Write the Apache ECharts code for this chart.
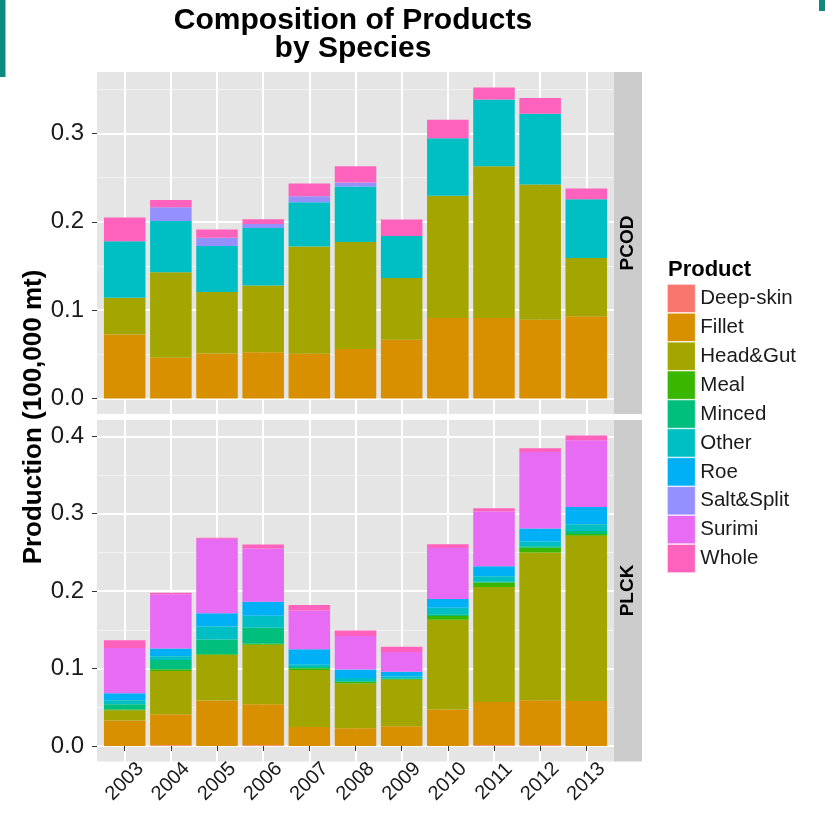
<!DOCTYPE html>
<html><head><meta charset="utf-8">
<script src="https://cdn.jsdelivr.net/npm/echarts@6/dist/echarts.min.js"></script>
<style>html,body{margin:0;padding:0;background:#fff}#c{width:825px;height:817px}</style>
</head><body><div id="c"></div>
<script>
const years = ['2003','2004','2005','2006','2007','2008','2009','2010','2011','2012','2013'];
const products = ['Deep-skin','Fillet','Head&Gut','Meal','Minced','Other','Roe','Salt&Split','Surimi','Whole'];
const productColors = ['#F8766D','#D89000','#A3A500','#39B600','#00BF7D','#00BFC4','#00B0F6','#9590FF','#E76BF3','#FF62BC'];
const species = ['PCOD','PLCK'];
const pcodTicks = [0, 0.1, 0.2, 0.3];
const plckTicks = [0, 0.1, 0.2, 0.3, 0.4];
const pcodMinorTicks = [0.05, 0.15, 0.25, 0.35];
const plckMinorTicks = [0.05, 0.15, 0.25, 0.35];

// PCOD production by product (100,000 mt)
const pcodFillet   = [0.0725, 0.046, 0.051, 0.0524, 0.0505, 0.056, 0.0664, 0.091, 0.091, 0.089, 0.093];
const pcodHeadGut  = [0.0415, 0.097, 0.0695, 0.0756, 0.1215, 0.121, 0.070, 0.1385, 0.172, 0.1533, 0.066];
const pcodOther    = [0.064, 0.058, 0.052, 0.065, 0.050, 0.063, 0.0476, 0.065, 0.0755, 0.080, 0.0664];
const pcodSalt     = [0, 0.0155, 0.0094, 0.0045, 0.007, 0.0045, 0, 0, 0, 0, 0];
const pcodWhole    = [0.027, 0.0083, 0.0094, 0.0053, 0.0145, 0.0185, 0.0185, 0.021, 0.0135, 0.0178, 0.0124];

// PLCK production by product (100,000 mt)
const plckDeepSkin = [0, 0.001, 0, 0.001, 0, 0, 0, 0, 0.0008, 0.001, 0];
const plckFillet   = [0.033, 0.040, 0.0586, 0.053, 0.0245, 0.023, 0.0254, 0.047, 0.056, 0.058, 0.058];
const plckHeadGut  = [0.013, 0.056, 0.059, 0.0767, 0.0735, 0.0577, 0.060, 0.116, 0.1486, 0.191, 0.2137];
const plckMeal     = [0.001, 0.002, 0.001, 0.0013, 0.0023, 0.002, 0.001, 0.005, 0.0056, 0.006, 0.002];
const plckMinced   = [0.007, 0.012, 0.019, 0.0207, 0.0017, 0.001, 0.0005, 0.002, 0.001, 0.002, 0.004];
const plckOther    = [0.005, 0.005, 0.0167, 0.0155, 0.0035, 0.004, 0.003, 0.0087, 0.0073, 0.006, 0.0086];
const plckRoe      = [0.009, 0.010, 0.017, 0.018, 0.0195, 0.011, 0.006, 0.0113, 0.0127, 0.017, 0.0224];
const plckSurimi   = [0.0585, 0.070, 0.0965, 0.069, 0.050, 0.0434, 0.0254, 0.0658, 0.071, 0.0988, 0.0862];
const plckWhole    = [0.010, 0.002, 0.001, 0.005, 0.007, 0.007, 0.007, 0.0048, 0.004, 0.0048, 0.006];

const pcodSeries = {'Fillet': pcodFillet, 'Head&Gut': pcodHeadGut, 'Other': pcodOther, 'Salt&Split': pcodSalt, 'Whole': pcodWhole};
const plckSeries = {'Deep-skin': plckDeepSkin, 'Fillet': plckFillet, 'Head&Gut': plckHeadGut, 'Meal': plckMeal,
  'Minced': plckMinced, 'Other': plckOther, 'Roe': plckRoe, 'Surimi': plckSurimi, 'Whole': plckWhole};

const FONT = 'Liberation Sans, Arial, Helvetica, sans-serif';
const xPos = years.map((y, i) => i + 1);
const yRanges = [[-0.0176, 0.3696], [-0.02005, 0.42105]];

// panel geometry: ggplot discrete axis expands 0.6 category units on each side
const PANEL_L = 97, PANEL_W = 517;
const unit = PANEL_W / 11.2;
const panels = [{ top: 72, height: 342 }, { top: 420, height: 341.5 }];

const series = [];
[pcodSeries, plckSeries].forEach((set, gi) => {
  products.forEach((p, pi) => {
    const arr = set[p];
    if (!arr) return;
    series.push({
      type: 'bar', name: p, stack: species[gi], xAxisIndex: 2 + gi, yAxisIndex: 4 + gi,
      barWidth: '90%',
      itemStyle: { color: productColors[pi] },
      data: arr.slice()
    });
  });
});

const panelX = (gi) => ({
  type: 'value', gridIndex: gi, min: 0.4, max: 11.6,
  axisLine: { show: false },
  axisTick: { show: true, customValues: xPos, length: 5, lineStyle: { color: gi === 1 ? '#333' : 'rgba(0,0,0,0)', width: 1 } },
  axisLabel: { show: gi === 1, customValues: xPos, formatter: v => years[Math.round(v) - 1] || '',
    rotate: 45, align: 'center', verticalAlign: 'middle', margin: 20,
    fontFamily: FONT, fontSize: 20, color: '#1a1a1a' },
  splitLine: { show: true, lineStyle: { color: '#fff', width: 2 } }
});
const barX = (gi) => ({
  type: 'category', gridIndex: 2 + gi, data: years, boundaryGap: true,
  axisLine: { show: false }, axisTick: { show: false }, axisLabel: { show: false }, splitLine: { show: false }
});
const yMajor = (gi, ticks) => ({
  type: 'value', gridIndex: gi, min: yRanges[gi][0], max: yRanges[gi][1], position: 'left',
  axisLine: { show: false },
  axisTick: { show: true, customValues: ticks, length: 5, lineStyle: { color: '#333', width: 1 } },
  axisLabel: { show: true, customValues: ticks, formatter: v => v.toFixed(1), margin: 13,
    fontFamily: FONT, fontSize: 24, color: '#1a1a1a' },
  splitLine: { show: true, lineStyle: { color: '#fff', width: 2 } }
});
const yMinor = (gi, ticks) => ({
  type: 'value', gridIndex: gi, min: yRanges[gi][0], max: yRanges[gi][1], position: 'right',
  axisLine: { show: false },
  axisTick: { show: true, customValues: ticks, length: 0, lineStyle: { color: 'rgba(0,0,0,0)' } },
  axisLabel: { show: false, customValues: ticks },
  splitLine: { show: true, lineStyle: { color: '#F2F2F2', width: 1 } }
});
const yBar = (gi) => ({
  type: 'value', gridIndex: 2 + gi, min: yRanges[gi][0], max: yRanges[gi][1],
  axisLine: { show: false }, axisTick: { show: false }, axisLabel: { show: false }, splitLine: { show: false }
});

const option = {
  backgroundColor: '#ffffff',
  animation: false,
  grid: [
    { left: PANEL_L, top: panels[0].top, width: PANEL_W, height: panels[0].height, show: true, backgroundColor: '#E5E5E5', borderWidth: 0, containLabel: false, outerBoundsMode: 'none' },
    { left: PANEL_L, top: panels[1].top, width: PANEL_W, height: panels[1].height, show: true, backgroundColor: '#E5E5E5', borderWidth: 0, containLabel: false, outerBoundsMode: 'none' },
    { left: PANEL_L + 0.1 * unit, top: panels[0].top, width: 11 * unit, height: panels[0].height, show: false, containLabel: false, outerBoundsMode: 'none' },
    { left: PANEL_L + 0.1 * unit, top: panels[1].top, width: 11 * unit, height: panels[1].height, show: false, containLabel: false, outerBoundsMode: 'none' }
  ],
  xAxis: [panelX(0), panelX(1), barX(0), barX(1)],
  yAxis: [yMajor(0, pcodTicks), yMinor(0, pcodMinorTicks), yMajor(1, plckTicks), yMinor(1, plckMinorTicks), yBar(0), yBar(1)],
  legend: {
    data: products, orient: 'vertical', left: 667, top: 284, padding: 0,
    itemWidth: 28, itemHeight: 28.3, itemGap: 0, icon: 'rect', selectedMode: false,
    itemStyle: { borderColor: '#ffffff', borderWidth: 0.6 },
    textStyle: { fontFamily: FONT, fontSize: 20.5, color: '#1a1a1a' }
  },
  graphic: [
    { type: 'rect', shape: { x: 0, y: 0, width: 5.5, height: 77 }, style: { fill: '#0E8A80' } },
    { type: 'rect', shape: { x: 819, y: 0, width: 6, height: 11 }, style: { fill: '#0E8A80' } },
    { type: 'text', x: 353, y: 21, style: { text: 'Composition of Products', font: 'bold 30px ' + FONT, fill: '#000', textAlign: 'center', textVerticalAlign: 'middle' } },
    { type: 'text', x: 353, y: 49, style: { text: 'by Species', font: 'bold 30px ' + FONT, fill: '#000', textAlign: 'center', textVerticalAlign: 'middle' } },
    { type: 'text', x: 34, y: 417, rotation: Math.PI / 2, style: { text: 'Production (100,000 mt)', font: 'bold 26px ' + FONT, fill: '#000', textAlign: 'center', textVerticalAlign: 'middle' } },
    { type: 'rect', shape: { x: 614, y: panels[0].top, width: 28, height: panels[0].height }, style: { fill: '#CCCCCC' } },
    { type: 'rect', shape: { x: 614, y: panels[1].top, width: 28, height: panels[1].height }, style: { fill: '#CCCCCC' } },
    { type: 'text', x: 628, y: 243, rotation: Math.PI / 2, style: { text: species[0], font: 'bold 19px ' + FONT, fill: '#000', textAlign: 'center', textVerticalAlign: 'middle' } },
    { type: 'text', x: 628, y: 590.5, rotation: Math.PI / 2, style: { text: species[1], font: 'bold 19px ' + FONT, fill: '#000', textAlign: 'center', textVerticalAlign: 'middle' } },
    { type: 'text', x: 668, y: 269.5, style: { text: 'Product', font: 'bold 22px ' + FONT, fill: '#000', textAlign: 'left', textVerticalAlign: 'middle' } }
  ],
  series: series
};
const chart = echarts.init(document.getElementById('c'), null, { renderer: 'canvas' });
chart.setOption(option);
</script></body></html>
